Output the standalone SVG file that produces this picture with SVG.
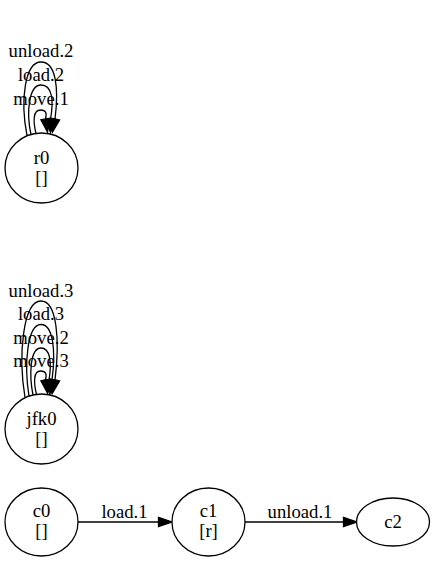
<svg xmlns="http://www.w3.org/2000/svg" width="434" height="561" viewBox="0 0 434 561">
<style>
  .node ellipse { fill: #ffffff; stroke: #000000; stroke-width: 1.3; }
  text { font-family: "Liberation Serif", "Times New Roman", serif; font-size: 18.67px; fill: #000000; text-anchor: middle; }
  .edge path { fill: none; stroke: #000000; stroke-width: 1.3; }
  .edge polygon { fill: #000000; stroke: #000000; stroke-width: 1.3; }
</style>
<rect x="0" y="0" width="434" height="561" fill="#ffffff"/>
<g id="edges">
  <g class="edge" id="r0_move1">
    <path d="M36,133.5 C33,121 33,110 40.5,110 C46,110 47,113 45.5,119"/>
    <polygon points="50.1,118.3 47.5,132 40.9,119.7"/>
    <text x="41" y="105">move.1</text>
  </g>
  <g class="edge" id="r0_load2">
    <path d="M31,134.5 C26,112 29,85 41,85 C52,85 54,100 50.5,119"/>
    <polygon points="55.2,119 50.5,132.5 45.8,119"/>
    <text x="41" y="81">load.2</text>
  </g>
  <g class="edge" id="r0_unload2">
    <path d="M27,135.5 C20,100 25,62 41,62 C56,62 59,88 55,119"/>
    <polygon points="59.6,119.9 52.5,132 50.4,118.1"/>
    <text x="41" y="57">unload.2</text>
  </g>
  <g class="edge" id="jfk0_move3">
    <path d="M36.5,394.5 C33.5,382 33.5,371 40.5,371 C46,371 47,374 45.5,380"/>
    <polygon points="50.1,379.3 47.5,393 40.9,380.7"/>
    <text x="41" y="366.5">move.3</text>
  </g>
  <g class="edge" id="jfk0_move2">
    <path d="M33,395 C29,375 30,348 41,348 C50,348 52,362 49,380"/>
    <polygon points="53.7,379.8 49.5,393.5 44.3,380.2"/>
    <text x="41" y="343.5">move.2</text>
  </g>
  <g class="edge" id="jfk0_load3">
    <path d="M29,396 C24,365 27,324.5 41,324.5 C53,324.5 56,350 52,380"/>
    <polygon points="56.7,380.3 51,393.5 47.3,379.7"/>
    <text x="41" y="320">load.3</text>
  </g>
  <g class="edge" id="jfk0_unload3">
    <path d="M25,397.5 C18,355 23,301 41,301 C57,301 60,340 55,380"/>
    <polygon points="59.6,380.9 52.5,393 50.4,379.1"/>
    <text x="41" y="296.5">unload.3</text>
  </g>
  <g class="edge" id="c0_c1">
    <path d="M78,522 L158.5,522"/>
    <polygon points="158.5,517.3 172,522 158.5,526.7"/>
    <text x="124.5" y="518">load.1</text>
  </g>
  <g class="edge" id="c1_c2">
    <path d="M245,522 L343.5,522"/>
    <polygon points="343.5,517.3 357,522 343.5,526.7"/>
    <text x="300" y="518">unload.1</text>
  </g>
</g>
<g class="node" id="r0">
  <ellipse cx="41.5" cy="168" rx="36.5" ry="35"/>
  <text x="41.5" y="163.5">r0</text>
  <text x="41.5" y="183.5">[]</text>
</g>
<g class="node" id="jfk0">
  <ellipse cx="41.5" cy="429" rx="36.5" ry="35"/>
  <text x="41.5" y="424.5">jfk0</text>
  <text x="41.5" y="444.5">[]</text>
</g>
<g class="node" id="c0">
  <ellipse cx="41.5" cy="522" rx="36.5" ry="34"/>
  <text x="41.5" y="517">c0</text>
  <text x="41.5" y="537">[]</text>
</g>
<g class="node" id="c1">
  <ellipse cx="208.5" cy="522" rx="36.5" ry="34"/>
  <text x="208.5" y="517">c1</text>
  <text x="208.5" y="537">[r]</text>
</g>
<g class="node" id="c2">
  <ellipse cx="393" cy="522" rx="36.5" ry="24"/>
  <text x="393" y="527.5">c2</text>
</g>
</svg>
